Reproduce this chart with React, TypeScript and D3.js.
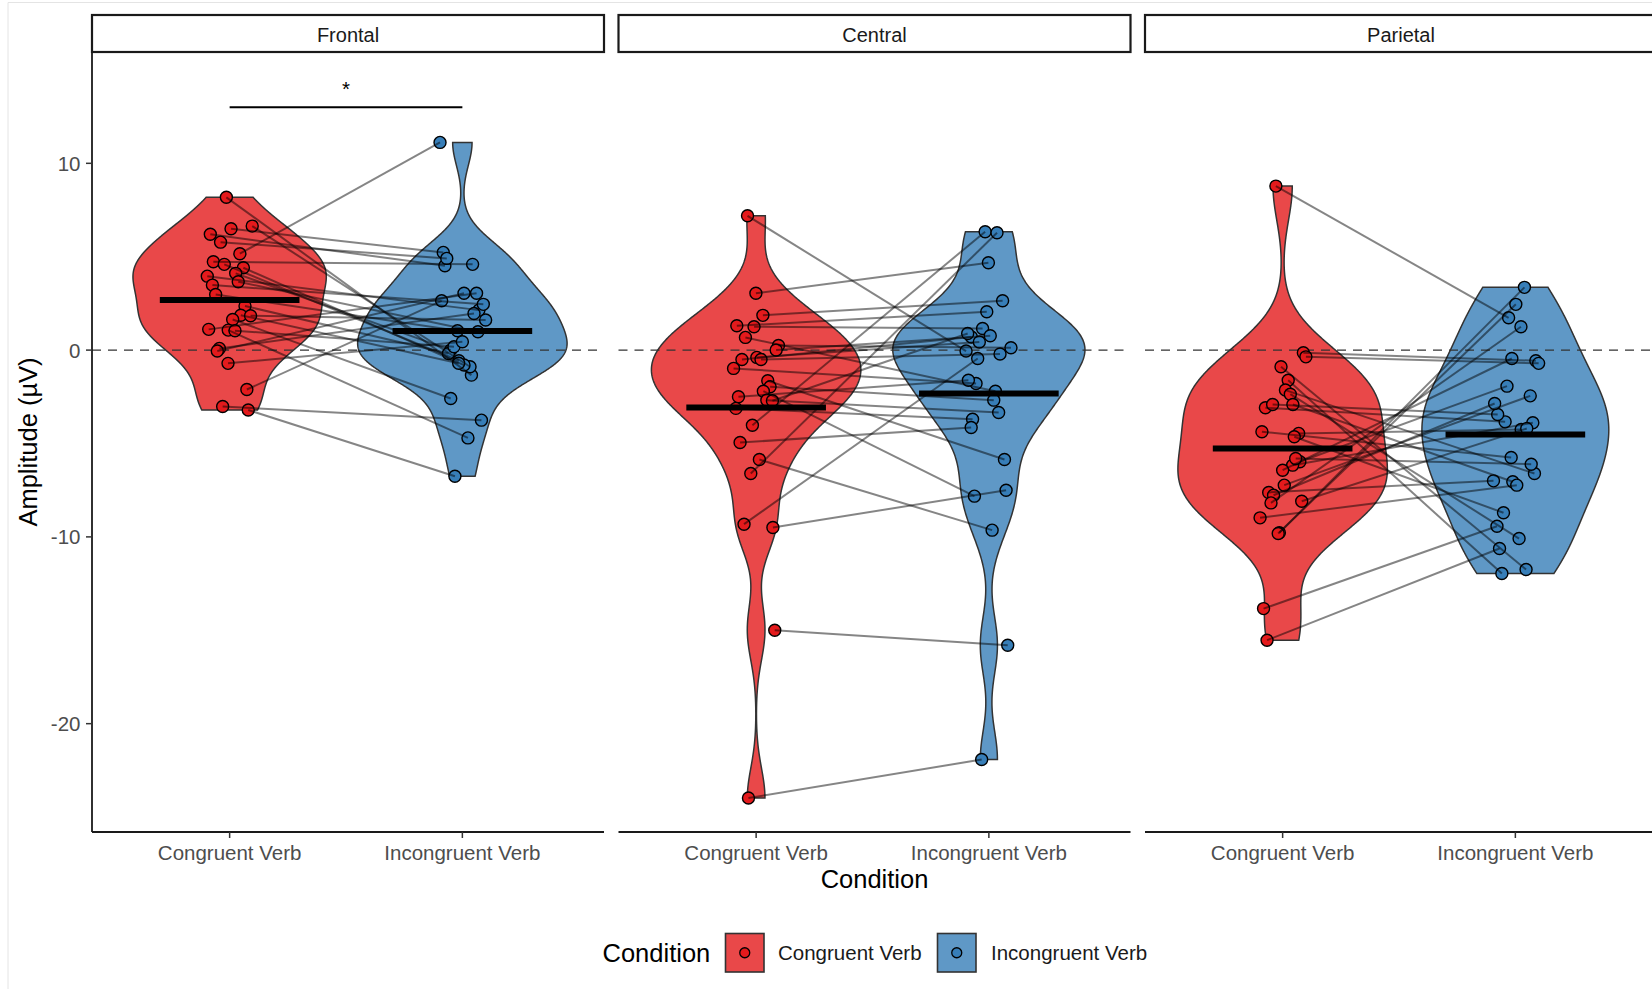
import React from "react";
import * as d3 from "d3";

// ---- data ---------------------------------------------------------------
const regions = ["Frontal", "Central", "Parietal"];
const conditions = ["Congruent Verb", "Incongruent Verb"];
const conditionColors = ["#E41A1C", "#377EB8"];
const yTicks = [10, 0, -10, -20];
const yLimits = [-25.8, 15.96];

// paired amplitudes (µV), one entry per participant, same order in both arrays
const frontalCongruent = [8.18, 6.2, 6.5, 6.64, 5.78, 5.16, 4.73, 4.59, 4.41, 3.96, 4.11, 3.66, 3.48, 2.98, 2.36, 1.87, 1.84, 1.64, 1.11, 1.07, 1.04, 0.09, -0.05, -0.71, -2.11, -3.02, -3.21];
const frontalIncongruent = [-1.34, 4.52, 5.23, -0.89, 4.91, 11.12, 4.59, -0.57, -0.8, 2.14, 0, 0.98, 2.45, 1.04, -0.18, -0.7, 1.61, -2.59, 3.04, -4.7, 0.18, 1.96, 3.04, 0.45, 2.64, -3.75, -6.75];
const centralCongruent = [7.19, 3.04, 1.86, 1.3, 1.25, 0.68, 0.25, 0, -0.5, -0.39, -0.5, -0.98, -1.64, -1.96, -2.2, -2.5, -2.68, -2.71, -3.12, -4.02, -4.95, -5.86, -6.61, -9.32, -9.5, -15.0, -23.98];
const centralIncongruent = [-0.05, 4.68, 2.64, 2.05, 1.16, -2.2, 0.13, 0.77, 0.7, 0.43, -0.21, -1.79, -5.86, -2.68, -7.82, -1.61, -3.34, 0.89, -3.7, 6.34, -4.14, -9.64, 6.28, -0.45, -7.5, -15.8, -21.92];
const parietalCongruent = [8.78, -0.14, -0.36, -0.89, -1.61, -2.14, -2.36, -3.09, -2.91, -2.91, -4.37, -4.46, -4.64, -5.98, -6.16, -6.43, -7.23, -7.62, -7.77, -8.18, -8.09, -8.98, -9.78, -9.82, -13.84, -15.53, -5.8];
const parietalIncongruent = [1.73, -0.57, -0.71, -11.75, -11.96, -6.61, -10.09, -3.84, -3.45, -7.05, -5.75, -4.25, -8.71, -1.93, -3.89, -0.45, -2.45, -7.0, -2.86, 1.25, -4.2, -7.23, 3.36, 2.45, -9.43, -10.62, -6.11];

// horizontal jitter of each point, in category units
const frontalCongruentJitter = [-0.014, -0.083, 0.006, 0.097, -0.039, 0.044, -0.07, -0.023, 0.059, -0.096, 0.026, 0.037, -0.074, -0.06, 0.066, 0.048, 0.09, 0.013, -0.09, -0.006, 0.023, -0.044, -0.053, -0.007, 0.074, -0.03, 0.08];
const frontalIncongruentJitter = [0.039, -0.075, -0.082, 0.033, -0.067, -0.096, 0.044, -0.015, 0.007, 0.071, -0.05, 0.067, 0.09, -0.021, -0.06, -0.016, 0.1, -0.05, 0.061, 0.024, -0.036, 0.05, 0.007, 0.0, -0.089, 0.082, -0.032];
const centralCongruentJitter = [-0.037, -0.001, 0.029, -0.083, -0.009, -0.046, 0.096, 0.086, -0.061, 0.003, 0.021, -0.097, 0.05, 0.06, 0.031, -0.076, 0.046, 0.07, -0.087, -0.016, -0.069, 0.014, -0.023, -0.052, 0.072, 0.08, -0.033];
const centralIncongruentJitter = [-0.098, -0.002, 0.059, -0.009, -0.027, 0.028, 0.095, 0.006, -0.075, -0.041, 0.048, -0.055, 0.067, 0.021, -0.062, -0.088, 0.042, -0.091, -0.07, -0.016, -0.076, 0.014, 0.035, -0.048, 0.074, 0.081, -0.031];
const parietalCongruentJitter = [-0.029, 0.089, 0.1, -0.007, 0.024, 0.012, 0.033, -0.074, -0.043, 0.044, -0.089, 0.069, 0.05, 0.074, 0.043, 0.0, 0.007, -0.06, -0.039, -0.05, 0.082, -0.097, -0.014, -0.019, -0.082, -0.067, 0.056];
const parietalIncongruentJitter = [-0.029, 0.088, 0.1, 0.046, -0.058, 0.082, 0.016, -0.044, -0.076, -0.011, -0.018, 0.025, -0.051, -0.036, 0.075, -0.015, 0.064, -0.094, -0.089, 0.024, 0.049, 0.006, 0.039, 0.002, -0.079, -0.068, 0.068];

// significance bracket (Frontal panel)
const sigRegion = "Frontal";
const sigY = 13;
const sigLabel = "*";

const regionValues = [
  [frontalCongruent, frontalIncongruent],
  [centralCongruent, centralIncongruent],
  [parietalCongruent, parietalIncongruent],
];
const regionJitter = [
  [frontalCongruentJitter, frontalIncongruentJitter],
  [centralCongruentJitter, centralIncongruentJitter],
  [parietalCongruentJitter, parietalIncongruentJitter],
];

// ---- helpers --------------------------------------------------------------
type DensityPoint = { v: number; d: number };

// Gaussian kernel density with R's bw.nrd0 bandwidth, trimmed to the data range
function kde(values: number[], n = 512): DensityPoint[] {
  const s = values.slice().sort(d3.ascending);
  const sd = d3.deviation(s) as number;
  const iqr = (d3.quantileSorted(s, 0.75) as number) - (d3.quantileSorted(s, 0.25) as number);
  const lo = Math.min(sd, iqr / 1.34);
  const bw = 0.9 * lo * Math.pow(s.length, -0.2);
  const mn = s[0];
  const mx = s[s.length - 1];
  const k = 1 / (s.length * bw * Math.sqrt(2 * Math.PI));
  return d3.range(n).map((i) => {
    const v = mn + ((mx - mn) * i) / (n - 1);
    const d = k * d3.sum(s, (xi) => Math.exp(-0.5 * ((v - xi) / bw) ** 2));
    return { v, d };
  });
}

const FONT = "'Liberation Sans', Arial, Helvetica, sans-serif";

export default function App() {
  const W = 1652;
  const H = 989;
  const panelTop = 52;
  const panelBottom = 832;
  const panelWidth = 512;
  const firstLeft = 92;
  const panelGap = 14.5;
  const stripTop = 15;
  const tickLen = 6;
  const dataShift = -2;

  const y = d3.scaleLinear().domain(yLimits).range([panelBottom, panelTop]);

  const panels = regions.map((name, ri) => {
    const left = firstLeft + ri * (panelWidth + panelGap);
    const x = d3
      .scaleLinear()
      .domain([0.4, 2.6])
      .range([left + dataShift, left + panelWidth + dataShift]);
    const groups = regionValues[ri];
    const jit = regionJitter[ri];
    const dens = groups.map((g) => kde(g));
    const maxD = d3.max(dens.flat(), (p) => p.d) as number;

    const violins = dens.map((dd, gi) => {
      const pos = gi + 1;
      const area = d3
        .area<DensityPoint>()
        .x0((p) => x(pos - (p.d / maxD) * 0.45))
        .x1((p) => x(pos + (p.d / maxD) * 0.45))
        .y((p) => y(p.v));
      return (
        <path
          key={"v" + gi}
          d={area(dd) as string}
          fill={conditionColors[gi]}
          fillOpacity={0.8}
          stroke="#333333"
          strokeWidth={1.5}
        />
      );
    });

    const px = (gi: number, i: number) => x(gi + 1 + jit[gi][i]);

    const points = groups.map((g, gi) =>
      g.map((v, i) => (
        <circle
          key={"p" + gi + "-" + i}
          cx={px(gi, i)}
          cy={y(v)}
          r={6}
          fill={conditionColors[gi]}
          stroke="#000"
          strokeWidth={1.4}
        />
      ))
    );

    const links = groups[0].map((v, i) => (
      <line
        key={"l" + i}
        x1={px(0, i)}
        y1={y(v)}
        x2={px(1, i)}
        y2={y(groups[1][i])}
        stroke="#000"
        strokeOpacity={0.48}
        strokeWidth={2}
      />
    ));

    const means = groups.map((g, gi) => {
      const m = d3.mean(g) as number;
      return (
        <line
          key={"m" + gi}
          x1={x(gi + 1 - 0.3)}
          x2={x(gi + 1 + 0.3)}
          y1={y(m)}
          y2={y(m)}
          stroke="#000"
          strokeWidth={6}
        />
      );
    });

    return (
      <g key={name}>
        {/* strip */}
        <rect
          x={left}
          y={stripTop}
          width={panelWidth}
          height={panelTop - stripTop}
          fill="#fff"
          stroke="#1a1a1a"
          strokeWidth={2.2}
        />
        <text
          x={left + panelWidth / 2}
          y={41.5}
          textAnchor="middle"
          fontSize={20}
          fill="#1a1a1a"
        >
          {name}
        </text>

        {violins}
        {/* reference line at zero */}
        <line
          x1={left}
          x2={left + panelWidth}
          y1={y(0)}
          y2={y(0)}
          stroke="#333"
          strokeWidth={1.4}
          strokeDasharray="9 7"
        />
        {points}
        {links}
        {means}

        {name === sigRegion && (
          <g>
            <line x1={x(1)} x2={x(2)} y1={y(sigY)} y2={y(sigY)} stroke="#000" strokeWidth={2} />
            <text x={x(1.5)} y={y(sigY) - 11.5} textAnchor="middle" fontSize={20.5} fill="#000">
              {sigLabel}
            </text>
          </g>
        )}

        {/* x axis */}
        <line x1={left} x2={left + panelWidth} y1={panelBottom} y2={panelBottom} stroke="#1a1a1a" strokeWidth={1.8} />
        {conditions.map((c, ci) => (
          <g key={c}>
            <line
              x1={x(ci + 1)}
              x2={x(ci + 1)}
              y1={panelBottom}
              y2={panelBottom + tickLen}
              stroke="#333"
              strokeWidth={1.5}
            />
            <text x={x(ci + 1)} y={859.5} textAnchor="middle" fontSize={20.5} fill="#4d4d4d">
              {c}
            </text>
          </g>
        ))}
      </g>
    );
  });

  const allLeft = firstLeft;
  const allRight = firstLeft + 3 * panelWidth + 2 * panelGap;
  const centerX = (allLeft + allRight) / 2;

  return (
    <div style={{ position: "absolute", left: 0, top: 0 }}>
      <svg width={W} height={H} viewBox={`0 0 ${W} ${H}`} fontFamily={FONT} style={{ display: "block", background: "#fff" }}>
        <rect x={0} y={0} width={W} height={H} fill="#fff" />
        <path d={`M8,${H} V2.5 H${W}`} fill="none" stroke="#e4e4e4" strokeWidth={1} />

        {panels}

        {/* y axis (left panel only) */}
        <line x1={firstLeft} x2={firstLeft} y1={panelTop} y2={panelBottom} stroke="#1a1a1a" strokeWidth={1.8} />
        {yTicks.map((t) => (
          <g key={t}>
            <line x1={firstLeft - tickLen} x2={firstLeft} y1={y(t)} y2={y(t)} stroke="#333" strokeWidth={1.5} />
            <text x={80.5} y={y(t) + 7.4} textAnchor="end" fontSize={20.5} fill="#4d4d4d">
              {t}
            </text>
          </g>
        ))}

        {/* axis titles */}
        <text
          transform={`translate(37, ${(panelTop + panelBottom) / 2}) rotate(-90)`}
          textAnchor="middle"
          fontSize={25.5}
          fill="#000"
        >
          Amplitude (µV)
        </text>
        <text x={centerX} y={888} textAnchor="middle" fontSize={25.5} fill="#000">
          Condition
        </text>

        {/* legend */}
        <g>
          <text x={602.5} y={961.5} fontSize={25.5} fill="#000">
            Condition
          </text>
          {conditions.map((c, ci) => {
            const kx = ci === 0 ? 725.5 : 937.5;
            const tx = ci === 0 ? 778 : 991;
            return (
              <g key={c}>
                <rect
                  x={kx}
                  y={933.5}
                  width={38.5}
                  height={38.5}
                  fill={conditionColors[ci]}
                  fillOpacity={0.8}
                  stroke="#333"
                  strokeWidth={1.6}
                />
                <circle cx={kx + 19.25} cy={952.75} r={5} fill={conditionColors[ci]} stroke="#000" strokeWidth={1.3} />
                <text x={tx} y={960} fontSize={20.5} fill="#1a1a1a">
                  {c}
                </text>
              </g>
            );
          })}
        </g>
      </svg>
    </div>
  );
}
